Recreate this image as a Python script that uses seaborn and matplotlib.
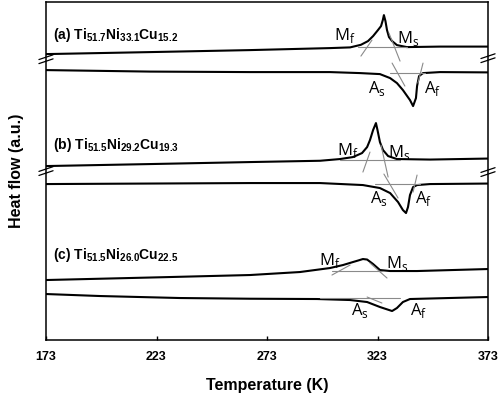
import numpy as np
import pandas as pd
import seaborn as sns
import matplotlib.pyplot as plt

# temperature (K) and heat flow (a.u.)
a_cool_T = [173.0, 220.1, 265.3, 301.5, 310.6, 315.5, 318.7, 321.0, 323.2, 324.6, 325.4, 325.9,
            326.6, 327.3, 328.2, 329.6, 331.8, 336.3, 351.3, 373.0]
a_cool_H = [28.6, 28.8, 29.0, 29.2, 29.27, 29.53, 29.9, 30.4, 31.0, 31.4, 32.0, 32.5,
            31.9, 31.0, 30.3, 29.9, 29.5, 29.3, 29.35, 29.35]
a_heat_T = [173.0, 220.1, 265.3, 301.5, 315.1, 324.1, 328.7, 331.8, 334.5, 337.7, 339.1, 340.4,
            340.9, 341.8, 343.6, 351.3, 373.0]
a_heat_H = [27.0, 26.85, 26.8, 26.8, 26.7, 26.6, 26.2, 25.7, 25.0, 24.0, 23.4, 24.2,
            25.4, 26.4, 26.7, 26.8, 26.77]

b_cool_T = [173.0, 220.1, 265.3, 297.0, 306.0, 311.9, 316.0, 318.3, 319.6, 321.0, 322.3, 323.0,
            324.1, 325.5, 327.8, 331.8, 346.8, 373.0]
b_cool_H = [17.4, 17.6, 17.8, 17.93, 18.1, 18.3, 18.7, 19.3, 20.0, 21.0, 21.7, 21.0,
            19.8, 19.0, 18.4, 18.1, 18.05, 18.15]
b_heat_T = [173.0, 265.3, 297.0, 316.4, 324.1, 328.7, 332.3, 334.5, 335.9, 336.8, 337.7, 339.1,
            340.9, 346.8, 373.0]
b_heat_H = [15.6, 15.7, 15.7, 15.5, 15.2, 14.7, 13.8, 13.0, 12.7, 13.3, 14.5, 15.3,
            15.5, 15.6, 15.65]

c_cool_T = [173.0, 220.1, 265.3, 287.9, 301.5, 307.4, 311.9, 314.2, 316.4, 318.3, 321.0, 324.1,
            328.7, 340.9, 373.0]
c_cool_H = [6.0, 6.25, 6.5, 6.8, 7.2, 7.5, 7.8, 7.95, 8.1, 8.05, 7.6, 7.0,
            6.9, 6.9, 7.1]
c_heat_T = [173.0, 197.4, 233.6, 265.3, 295.6, 310.6, 318.3, 324.1, 329.6, 331.8, 334.5, 337.7, 373.0]
c_heat_H = [4.6, 4.4, 4.2, 4.13, 4.1, 4.0, 3.8, 3.3, 2.9, 3.2, 3.8, 4.1, 4.3]

# tangent construction lines (T1, H1, T2, H2)
tangents = [
    (315.5, 28.4, 320.5, 30.0), (328.2, 30.7, 333.2, 27.9), (314.2, 29.3, 336.3, 29.3),
    (329.6, 27.7, 335.4, 25.4), (343.6, 27.7, 341.3, 25.7), (328.7, 26.7, 344.5, 26.7),
    (316.4, 16.8, 319.6, 18.8), (324.6, 19.5, 327.8, 16.3), (306.0, 18.0, 333.2, 18.0),
    (325.9, 16.6, 332.3, 14.2), (340.9, 16.5, 339.1, 14.8), (321.9, 15.6, 342.2, 15.6),
    (302.4, 6.5, 310.6, 7.5), (319.6, 7.7, 327.3, 6.2), (302.4, 6.9, 325.5, 6.9),
    (318.3, 4.3, 325.0, 3.7), (297.0, 4.2, 333.2, 4.2),
]

samples = [r'(a) Ti$_\mathbf{51.7}$Ni$_\mathbf{33.1}$Cu$_\mathbf{15.2}$',
           r'(b) Ti$_\mathbf{51.5}$Ni$_\mathbf{29.2}$Cu$_\mathbf{19.3}$',
           r'(c) Ti$_\mathbf{51.5}$Ni$_\mathbf{26.0}$Cu$_\mathbf{22.5}$']
sample_y = [30.5, 19.5, 8.5]

point_labels = ['M$_\\mathrm{f}$', 'M$_\\mathrm{s}$', 'A$_\\mathrm{s}$', 'A$_\\mathrm{f}$'] * 3
point_T = [308.3, 337.0, 322.8, 348.0, 309.7, 333.0, 323.7, 344.0, 301.5, 332.0, 315.1, 341.5]
point_H = [30.5, 30.2, 25.2, 25.2, 19.0, 18.8, 14.2, 14.2, 8.0, 7.7, 3.0, 3.0]

xticks = [173, 223, 273, 323, 373]

sns.set_style('ticks')
plt.rcParams['font.family'] = ['Liberation Sans', 'DejaVu Sans']
plt.rcParams['mathtext.fontset'] = 'custom'
plt.rcParams['mathtext.rm'] = 'Open Sans'
plt.rcParams['mathtext.bf'] = 'Liberation Sans:bold'
plt.rcParams['text.color'] = 'black'
plt.rcParams['axes.labelcolor'] = 'black'
plt.rcParams['xtick.color'] = 'black'

fig = plt.figure(figsize=(5.0, 3.98), dpi=100)
ax = fig.add_axes([0.092, 0.1457, 0.884, 0.849])

curves = [(a_cool_T, a_cool_H), (a_heat_T, a_heat_H), (b_cool_T, b_cool_H),
          (b_heat_T, b_heat_H), (c_cool_T, c_cool_H), (c_heat_T, c_heat_H)]
for T, H in curves:
    df = pd.DataFrame({'T': T, 'H': H})
    sns.lineplot(data=df, x='T', y='H', ax=ax, color='black', lw=1.5,
                 sort=False, estimator=None)

for t1, h1, t2, h2 in tangents:
    ax.plot([t1, t2], [h1, h2], color='#8a8a8a', lw=0.8)

for s, y in zip(samples, sample_y):
    ax.text(176.2, y, s, ha='left', va='center', fontsize=10, fontweight='bold',
            color='black')

for lab, t, h in zip(point_labels, point_T, point_H):
    ax.text(t, h, lab, ha='center', va='center', fontsize=12, family='Open Sans',
            color='black')

# axis break marks
for xa, ya in [(0, 0.831), (0, 0.5), (1, 0.834), (1, 0.497)]:
    for off in (-0.006, 0.006):
        ax.plot([xa - 0.016, xa + 0.016], [ya + off - 0.007, ya + off + 0.007],
                transform=ax.transAxes, color='black', lw=0.9, clip_on=False)

ax.set_xlim(173, 373)
ax.set_ylim(0, 33.8)
ax.set_xticks(xticks)
ax.set_xticklabels([str(t) for t in xticks], fontweight='bold', fontsize=9)
ax.set_yticks([])
ax.tick_params(axis='x', direction='in', length=3, width=1, pad=8, colors='black')
for sp in ax.spines.values():
    sp.set_linewidth(1.1)
    sp.set_color('black')
ax.set_xlabel('Temperature (K)', fontsize=11.5, fontweight='bold', labelpad=11)
ax.set_ylabel('Heat flow (a.u.)', fontsize=11.5, fontweight='bold', labelpad=16)

fig.savefig('out.png', dpi=100)
